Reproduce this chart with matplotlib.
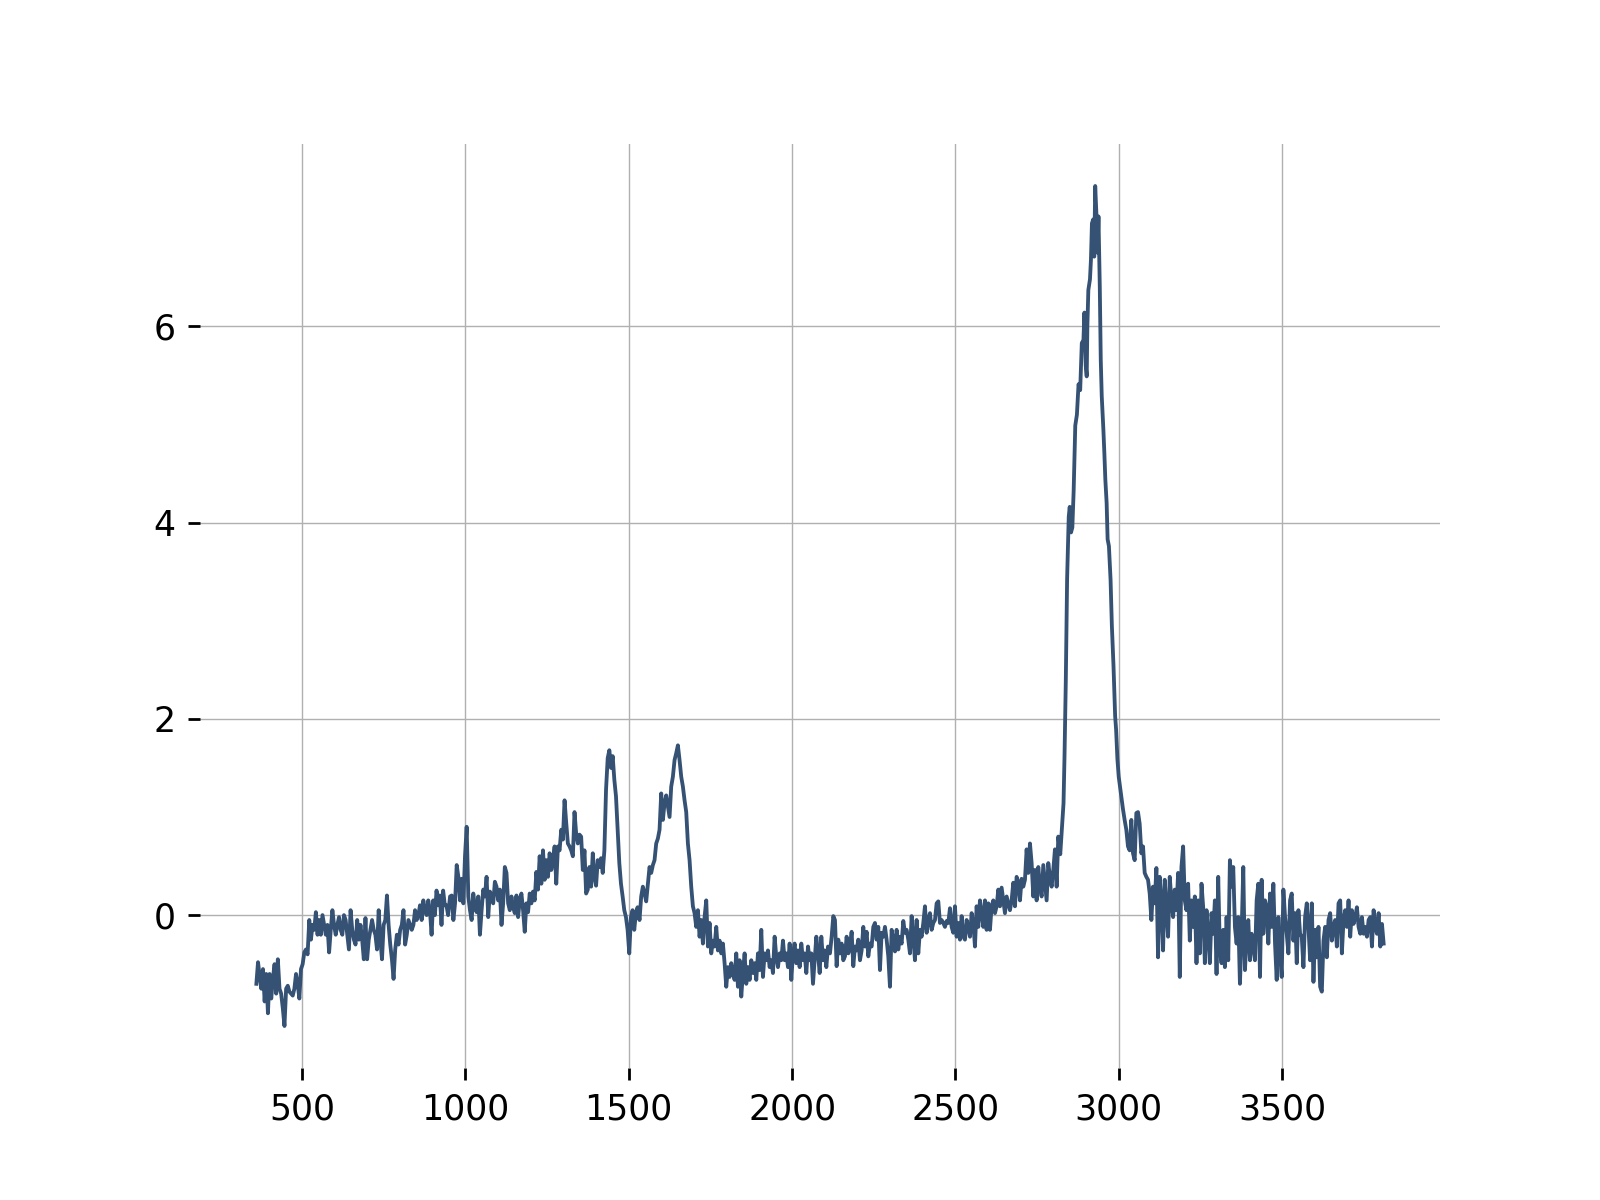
import matplotlib
matplotlib.use("Agg")
import matplotlib.pyplot as plt
import numpy as np

# spectrum, in pieces (start wavenumber, end wavenumber, values)
seg1_range = (360, 947)
seg1 = [-0.70, -0.48, -0.62, -0.75, -0.55, -0.88, -0.60, -1.00, -0.60, -0.85,
        -0.65, -0.50, -0.80, -0.45, -0.75, -0.80, -0.95, -1.13, -0.75, -0.72,
        -0.78, -0.80, -0.82, -0.75, -0.60, -0.70, -0.85, -0.55, -0.50, -0.38,
        -0.35, -0.40, -0.05, -0.25, -0.10, -0.15, 0.03, -0.20, -0.05, -0.20,
        0.00, -0.10, -0.20, -0.10, -0.38, -0.15, 0.05, -0.10, -0.20, -0.10,
        -0.02, -0.15, -0.20, 0.00, -0.05, -0.20, -0.35, 0.05, -0.15, -0.25,
        -0.30, -0.05, -0.25, -0.10, -0.25, -0.45, -0.03, -0.45, -0.25, -0.15,
        -0.05, -0.15, -0.20, -0.35, 0.05, -0.25, -0.45, -0.10, -0.05, 0.20,
        -0.10, -0.30, -0.45, -0.65, -0.35, -0.20, -0.30, -0.15, -0.10, 0.05,
        -0.30, -0.20, -0.05, -0.10, -0.15, -0.10, 0.05, -0.05, 0.00, 0.10,
        -0.05, 0.15, 0.05, 0.00, 0.15, 0.05, -0.20, 0.15, 0.00, 0.25,
        0.10, 0.20, -0.10, 0.25, 0.10, 0.10, 0.00]

seg2_range = (953, 1527)
seg2 = [0.19, 0.20, -0.05, 0.12, 0.51, 0.39, 0.15, 0.37, 0.12, 0.60,
        0.90, 0.19, 0.05, -0.05, 0.22, 0.08, 0.03, 0.19, -0.20, 0.05,
        0.26, 0.19, 0.39, -0.02, 0.24, 0.19, 0.12, 0.34, 0.29, 0.15,
        0.26, -0.10, 0.12, 0.49, 0.43, 0.12, 0.05, 0.19, 0.08, 0.02,
        0.20, -0.02, 0.15, 0.22, 0.05, -0.17, 0.12, 0.03, 0.22, 0.12,
        0.24, 0.15, 0.44, 0.26, 0.60, 0.32, 0.66, 0.36, 0.56, 0.39,
        0.63, 0.46, 0.56, 0.70, 0.32, 0.70, 0.66, 0.87, 0.77, 1.17,
        0.94, 0.73, 0.70, 0.66, 0.60, 1.05, 0.83, 0.73, 0.82, 0.80,
        0.46, 0.66, 0.22, 0.26, 0.49, 0.29, 0.63, 0.39, 0.30, 0.56,
        0.49, 0.58, 0.43, 0.66, 1.28, 1.60, 1.68, 1.50, 1.62, 1.38,
        1.21, 0.87, 0.53, 0.32, 0.19, 0.05, -0.02, -0.15, -0.39,
        -0.02, 0.05, -0.15, 0.02, 0.08]

seg3_range = (1533, 2110)
seg3 = [-0.05, 0.19, 0.29, 0.22, 0.14, 0.32, 0.49, 0.43, 0.51, 0.56,
        0.73, 0.78, 0.87, 1.24, 0.97, 1.14, 1.22, 1.11, 1.00, 1.31,
        1.41, 1.58, 1.65, 1.73, 1.58, 1.41, 1.31, 1.17, 1.05, 0.73,
        0.56, 0.29, 0.09, 0.02, -0.12, 0.05, -0.22, -0.05, -0.29, -0.02,
        0.15, -0.32, -0.08, -0.39, -0.26, -0.32, -0.12, -0.36, -0.26, -0.39,
        -0.29, -0.49, -0.73, -0.53, -0.63, -0.49, -0.59, -0.66, -0.39, -0.73,
        -0.46, -0.83, -0.59, -0.39, -0.70, -0.53, -0.66, -0.46, -0.59, -0.49,
        -0.66, -0.39, -0.56, -0.15, -0.63, -0.39, -0.46, -0.36, -0.53, -0.46,
        -0.59, -0.22, -0.43, -0.53, -0.39, -0.46, -0.26, -0.46, -0.39, -0.53,
        -0.29, -0.66, -0.39, -0.29, -0.49, -0.36, -0.53, -0.29, -0.46, -0.39,
        -0.59, -0.32, -0.46, -0.39, -0.70, -0.46, -0.22, -0.39, -0.59, -0.22,
        -0.46, -0.36, -0.53, -0.32]

seg4_range = (2116, 2815)
seg4 = [-0.39, -0.22, -0.01, -0.05, -0.52, -0.25, -0.39, -0.29, -0.46, -0.42,
        -0.22, -0.39, -0.32, -0.17, -0.52, -0.32, -0.36, -0.25, -0.46, -0.36,
        -0.12, -0.32, -0.17, -0.42, -0.29, -0.32, -0.12, -0.08, -0.25, -0.12,
        -0.56, -0.18, -0.22, -0.12, -0.25, -0.42, -0.73, -0.15, -0.25, -0.37,
        -0.15, -0.35, -0.22, -0.29, -0.06, -0.18, -0.15, -0.25, -0.39, -0.01,
        -0.22, -0.46, -0.05, -0.39, -0.15, -0.22, -0.08, 0.09, -0.18, -0.05,
        0.02, -0.15, -0.08, -0.05, 0.12, 0.14, -0.08, -0.05, -0.08, -0.12,
        -0.06, -0.08, 0.07, -0.12, -0.18, 0.09, -0.22, -0.08, -0.25, -0.01,
        -0.22, -0.25, -0.05, -0.12, -0.22, 0.02, -0.08, -0.32, 0.09, -0.12,
        0.15, 0.02, -0.12, 0.15, -0.15, 0.12, -0.15, 0.09, 0.15, 0.02,
        0.09, 0.26, 0.09, 0.28, 0.15, 0.02, 0.19, 0.12, 0.05, 0.15,
        0.33, 0.09, 0.39, 0.33, 0.15, 0.37, 0.29, 0.36, 0.67, 0.43,
        0.73, 0.53, 0.19, 0.46, 0.15, 0.49, 0.29, 0.19, 0.51, 0.33,
        0.15, 0.53, 0.39, 0.29, 0.46, 0.67, 0.29, 0.80]

# the big C-H peak, read point by point
peak_wn = [2821, 2826, 2831, 2834, 2838, 2842, 2847, 2850, 2854, 2858,
           2862, 2867, 2872, 2877, 2882, 2887, 2892, 2895, 2899, 2902,
           2904, 2907, 2912, 2915, 2918, 2922, 2925, 2928, 2932, 2935,
           2938, 2942, 2945, 2948, 2953, 2956, 2959, 2963, 2966, 2970,
           2975, 2979, 2984, 2989, 2992, 2996, 3000]
peak_vals = [0.62, 0.88, 1.14, 1.61, 2.39, 3.43, 4.06, 4.16, 3.90, 3.95,
             4.32, 4.99, 5.10, 5.41, 5.35, 5.83, 5.86, 6.14, 5.60, 5.49,
             6.00, 6.37, 6.48, 6.68, 7.05, 7.09, 6.71, 7.43, 7.12, 6.75,
             7.12, 6.41, 5.66, 5.29, 4.95, 4.71, 4.44, 4.20, 3.83, 3.76,
             3.42, 2.95, 2.54, 2.03, 1.89, 1.59, 1.41]

seg6_range = (3013, 3811)
seg6 = [1.08, 0.97, 0.87, 0.70, 0.66, 0.97, 0.63, 0.56, 1.04, 1.05,
        0.93, 0.63, 0.70, 0.43, 0.39, 0.36, 0.22, -0.05, 0.29, 0.12,
        0.48, -0.43, 0.39, 0.15, -0.36, 0.36, 0.05, -0.22, 0.39, 0.15,
        -0.02, 0.26, 0.05, 0.43, -0.63, 0.49, 0.70, 0.15, 0.05, 0.32,
        -0.26, 0.15, -0.12, 0.19, -0.49, 0.15, -0.39, 0.32, 0.08, -0.49,
        0.05, -0.19, -0.49, 0.02, -0.19, 0.15, -0.60, 0.39, -0.36, -0.49,
        -0.15, -0.53, -0.02, -0.46, 0.56, 0.29, 0.49, -0.12, -0.29, -0.02,
        -0.70, -0.19, 0.49, -0.56, -0.22, -0.05, -0.46, -0.19, -0.32, -0.46,
        0.15, 0.32, -0.63, 0.36, -0.19, 0.15, 0.08, -0.29, 0.22, -0.12,
        0.32, -0.29, -0.66, -0.02, -0.39, -0.63, 0.26, -0.02, -0.19, -0.39,
        0.15, 0.22, -0.26, 0.02, -0.49, 0.05, -0.19, -0.22, -0.53, -0.02,
        0.12, -0.12, -0.46, 0.12, -0.68, -0.15, -0.43, -0.12, -0.73, -0.78,
        -0.26, -0.12, -0.43, -0.05, 0.02, -0.26, -0.12, -0.05, -0.32, 0.12,
        0.15, -0.39, -0.05, 0.05, -0.12, 0.15, -0.22, 0.05, -0.09, -0.02,
        0.08, -0.12, -0.19, -0.02, -0.19, -0.12, -0.22, -0.05, -0.02, -0.32,
        0.05, -0.12, -0.19, 0.02, -0.32, -0.09, -0.29]

pieces = [(seg1_range, seg1), (seg2_range, seg2), (seg3_range, seg3), (seg4_range, seg4)]
xs = [np.linspace(r[0], r[1], len(v)) for r, v in pieces]
ys = [np.array(v) for r, v in pieces]
xs += [np.array(peak_wn), np.linspace(seg6_range[0], seg6_range[1], len(seg6))]
ys += [np.array(peak_vals), np.array(seg6)]
x = np.concatenate(xs)
y = np.concatenate(ys)

fig = plt.figure(figsize=(6.4, 4.8), dpi=250)
ax = fig.add_subplot(111)
ax.plot(x, y, color='#355274', lw=1.1)

for s in ax.spines.values():
    s.set_visible(False)
ax.grid(True, color='#b0b0b0', lw=0.4)
ax.set_axisbelow(True)
ax.set_yticks([0, 2, 4, 6])
ax.set_xticks([500, 1000, 1500, 2000, 2500, 3000, 3500])

fig.savefig('out.png', dpi=250)
